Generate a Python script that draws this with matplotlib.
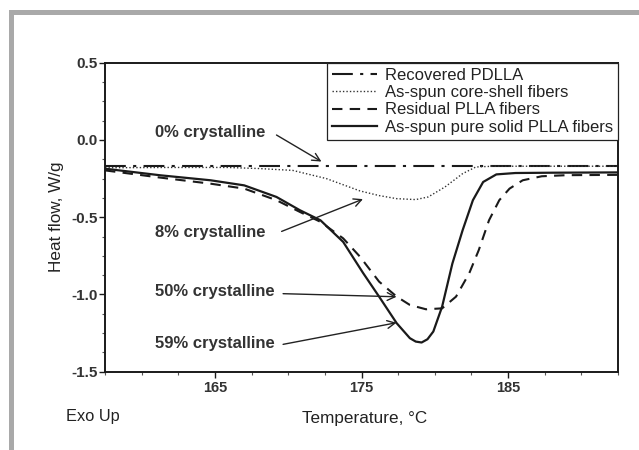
import matplotlib
matplotlib.use("Agg")
import matplotlib.pyplot as plt
from matplotlib.patches import Rectangle

# ---------------- data ----------------
t_pdlla = [157.5, 192.5]
hf_pdlla = [-0.17, -0.17]

t_core = [157.5, 162.0, 165.8, 168.0, 170.3, 172.6, 174.9, 176.2, 177.4, 178.7,
          179.55, 180.7, 181.9, 182.8, 184.0, 192.5]
hf_core = [-0.18, -0.178, -0.178, -0.185, -0.197, -0.25, -0.33, -0.36, -0.38, -0.386,
           -0.369, -0.304, -0.218, -0.175, -0.17, -0.17]

t_resid = [157.5, 161.3, 164.7, 167.0, 169.2, 170.8, 172.2, 173.75, 174.9, 176.2,
           177.4, 178.3, 179.4, 180.5, 181.45, 182.35, 183.0, 183.7, 184.4, 185.1,
           186.0, 187.3, 189.0, 192.5]
hf_resid = [-0.197, -0.244, -0.283, -0.315, -0.39, -0.466, -0.53, -0.637, -0.756, -0.917,
            -1.014, -1.068, -1.096, -1.09, -1.014, -0.863, -0.713, -0.52, -0.39, -0.315,
            -0.261, -0.235, -0.228, -0.226]

t_solid = [157.5, 161.3, 164.7, 167.0, 169.2, 170.8, 172.2, 173.75, 175.1, 176.2,
           177.4, 178.3, 178.7, 179.1, 179.5, 179.9, 180.5, 181.2, 181.9, 182.6, 183.3,
           184.2, 185.5, 188.0, 192.5]
hf_solid = [-0.186, -0.229, -0.261, -0.294, -0.369, -0.455, -0.52, -0.66, -0.86, -1.014,
            -1.186, -1.283, -1.305, -1.311, -1.29, -1.24, -1.079, -0.80, -0.584, -0.39,
            -0.272, -0.223, -0.214, -0.212, -0.21]

series_labels = ["Recovered PDLLA", "As-spun core-shell fibers",
                 "Residual PLLA fibers", "As-spun pure solid PLLA fibers"]

ann_texts = ["0% crystalline", "8% crystalline", "50% crystalline", "59% crystalline"]
ann_text_xy = [(160.9, 0.047), (160.9, -0.60), (160.9, -0.98), (160.9, -1.32)]
ann_start = [(169.2, 0.032), (169.55, -0.592), (169.65, -0.995), (169.65, -1.323)]
ann_head = [(172.27, -0.14), (175.1, -0.383), (177.39, -1.015), (177.39, -1.183)]

x_ticks = [165, 175, 185]
y_ticks = [0.5, 0.0, -0.5, -1.0, -1.5]

# ---------------- figure ----------------
plt.rcParams['font.family'] = ['Liberation Sans', 'DejaVu Sans']
W, H = 639, 450
fig = plt.figure(figsize=(W / 100, H / 100), dpi=100)
fig.patch.set_facecolor('white')

# gray frame (top and left bars)
gray = '#a9a9a9'
fig.add_artist(Rectangle((9 / W, 1 - 15 / H), 1 - 9 / W, 5 / H,
                         transform=fig.transFigure, color=gray, lw=0))
fig.add_artist(Rectangle((9 / W, 0), 5 / W, 1 - 10 / H,
                         transform=fig.transFigure, color=gray, lw=0))

ax = fig.add_axes([105 / W, 1 - 371.7 / H, (618 - 105) / W, (371.7 - 62.7) / H])

dark = '#1a1a1a'
l1, = ax.plot(t_pdlla, hf_pdlla, color=dark, lw=1.5, dashes=(10, 3.5, 1.5, 3.5))
l2, = ax.plot(t_core, hf_core, color='#333333', lw=1.0, linestyle=(0, (1, 1.5)))
l3, = ax.plot(t_resid, hf_resid, color=dark, lw=1.5, dashes=(5, 3.5))
l4, = ax.plot(t_solid, hf_solid, color=dark, lw=1.6)

ax.set_xlim(157.5, 192.5)
ax.set_ylim(-1.5, 0.5)
ax.set_xticks(x_ticks)
ax.set_yticks(y_ticks)
ax.set_yticklabels(['0.5', '0.0', '-0.5', '-1.0', '-1.5'])
ax.set_xticks([157.5 + 2.5 * i for i in range(15)], minor=True)
ax.set_yticks([-1.5 + 0.125 * i for i in range(17)], minor=True)

txtcol = '#333333'
ax.tick_params(axis='both', which='major', length=4, width=1, color=dark,
               labelcolor=txtcol, direction='out')
ax.tick_params(axis='both', which='minor', length=2.5, width=0.8, color='#555555',
               direction='out')
ax.tick_params(axis='y', which='major', pad=1.5, labelsize=11)
ax.tick_params(axis='x', which='major', pad=3, labelsize=10.5)
for lab in ax.get_xticklabels() + ax.get_yticklabels():
    lab.set_fontweight('bold')

for sp in ax.spines.values():
    sp.set_color(dark)
    sp.set_linewidth(1.4)

leg = ax.legend([l1, l2, l3, l4], series_labels, loc='upper right',
                bbox_to_anchor=(1, 1), borderaxespad=0, fontsize=12,
                handlelength=2.7, handletextpad=0.45, labelspacing=0.14,
                borderpad=0.3, fancybox=False, framealpha=1,
                edgecolor='#222222')
leg.get_frame().set_linewidth(0.9)
for t in leg.get_texts():
    t.set_color('#222222')

for txt, (tx, ty), st, hd in zip(ann_texts, ann_text_xy, ann_start, ann_head):
    ax.text(tx, ty, txt, ha='left', va='center', fontsize=12,
            fontweight='bold', color=txtcol)
    ax.annotate('', xy=hd, xytext=st,
                arrowprops=dict(arrowstyle='->', color='#222222', lw=1.0,
                                shrinkA=0, shrinkB=0, mutation_scale=14))

fig.text(365 / W, 1 - 418 / H, 'Temperature, °C', ha='center', va='center',
         fontsize=12.3, color='#222222')
fig.text(57 / W, 1 - 217 / H, 'Heat flow, W/g', ha='center', va='center',
         rotation=90, fontsize=12.3, color='#222222')
fig.text(66 / W, 1 - 417 / H, 'Exo Up', ha='left', va='center',
         fontsize=11.8, color='#222222')

fig.savefig('out.png', dpi=100)
